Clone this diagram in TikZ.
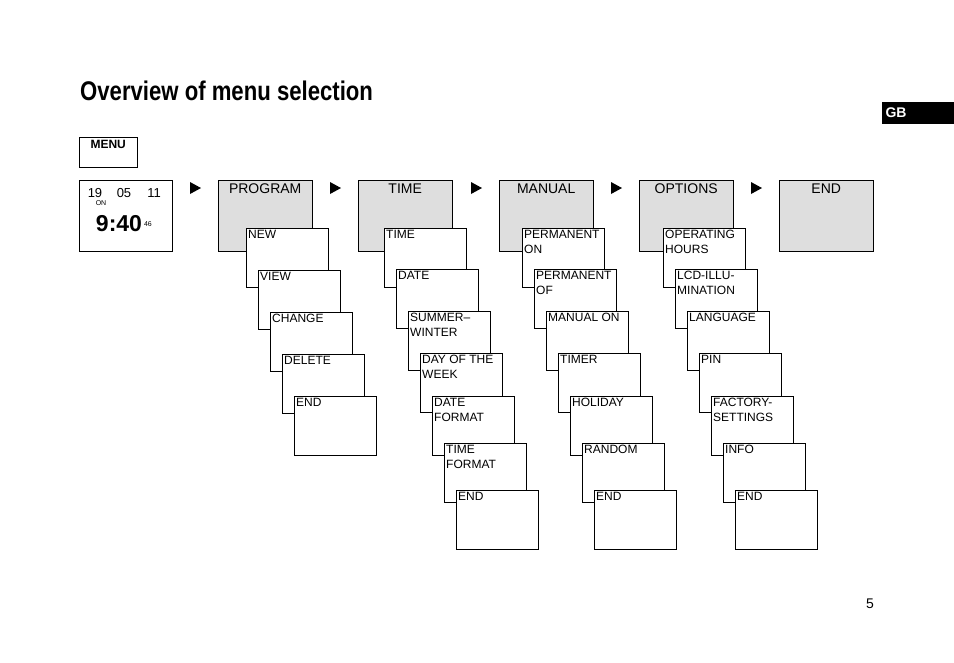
\documentclass[tikz,border=0pt]{standalone}
\usepackage{fontspec}
\setmainfont{Liberation Sans}
\usetikzlibrary{positioning}

\begin{document}
\begin{tikzpicture}[x=1pt, y=-1pt, thin, black,
  menubox/.style={draw, fill=black!13, minimum width=94pt, minimum height=71pt, anchor=north west, inner sep=0pt},
  subbox/.style={draw, fill=white, minimum width=82pt, minimum height=59pt, anchor=north west, inner sep=0pt},
  boxtxt/.style={anchor=north west, inner sep=2pt, align=left, font=\fontsize{12}{15}\selectfont},
  toptxt/.style={anchor=north, inner sep=4pt, font=\fontsize{14}{16}\selectfont}]
				
				\useasboundingbox (0,0) rectangle (954,662);
				
				% heading, tab and page number
				\node[anchor=west, inner sep=0pt, font=\fontsize{27}{30}\bfseries, xscale=0.82] (title) at (80,91) {Overview of menu selection};
				\fill (882,102) rectangle (954,124);
				\node[anchor=west, text=white, font=\fontsize{14}{16}\bfseries] (gb) at (882,113) {GB};
				\node[font=\fontsize{14}{16}\selectfont] (page) at (870,604) {5};
				
				% menu key and display
				\node[draw, anchor=north west, minimum width=58pt, minimum height=30pt, inner sep=0pt] (menu) at (79,137) {};
				\node[anchor=north, font=\fontsize{12}{14}\bfseries] at (menu.north) {MENU};
				\node[draw, anchor=north west, minimum width=93pt, minimum height=71pt, inner sep=0pt] (clock) at (79,180) {};
				\node[font=\fontsize{13}{14}\selectfont] (day) at (95,193) {19};
				\node[font=\fontsize{13}{14}\selectfont] (month) at (124,193) {05};
				\node[font=\fontsize{13}{14}\selectfont] (year) at (154,193) {11};
				\node[font=\fontsize{7}{8}\selectfont] (on) at (101,203) {ON};
				\node[font=\fontsize{23}{24}\bfseries] (hour) at (119,224) {9:40};
				\node[font=\fontsize{7}{8}\selectfont] (sec) at (148,224) {46};
				
				% main menu row
				\foreach \x/\name/\txt in {218/prog/PROGRAM, 358/time/TIME/DATE, 499/manual/MANUAL, 639/opt/OPTIONS, 779/end/END}
				{
				\node[menubox] (\name) at (\x,180) {};
				\node[toptxt] at (\name.north) {\txt};
				\fill (\x-28,182) -- (\x-17,188) -- (\x-28,194) -- cycle;
				}
				
				% submenus PROGRAM
				\foreach \i/\txt in {0/NEW, 1/VIEW, 2/CHANGE, 3/DELETE, 4/END}
				{
				\node[subbox] (p\i) at (246+12*\i,{228+42*\i}) {};
				\node[boxtxt] at (p\i.north west) {\txt};
				}
				
				% submenus TIME/DATE, MANUAL, OPTIONS
				\foreach \i/\y/\ta/\tb/\tc in {0/228/TIME/{PERMANENT\\ON}/{OPERATING\\HOURS},
				                              1/269/DATE/{PERMANENT\\OF}/{LCD-ILLU-\\MINATION},
				                              2/311/{SUMMER--\\WINTER}/MANUAL ON/LANGUAGE,
				                              3/353/{DAY OF THE\\WEEK}/TIMER/PIN,
				                              4/396/{DATE\\FORMAT}/HOLIDAY/{FACTORY-\\SETTINGS},
				                              5/443/{TIME\\FORMAT}/RANDOM/INFO,
				                              6/490/END/END/END}
				{
				\node[subbox] (t\i) at (384+12*\i,\y) {};
				\node[boxtxt] at (t\i.north west) {\ta};
				\node[subbox] (m\i) at (522+12*\i,\y) {};
				\node[boxtxt] at (m\i.north west) {\tb};
				\node[subbox] (o\i) at (663+12*\i,\y) {};
				\node[boxtxt] at (o\i.north west) {\tc};
				}
			\end{tikzpicture}
\end{document}
